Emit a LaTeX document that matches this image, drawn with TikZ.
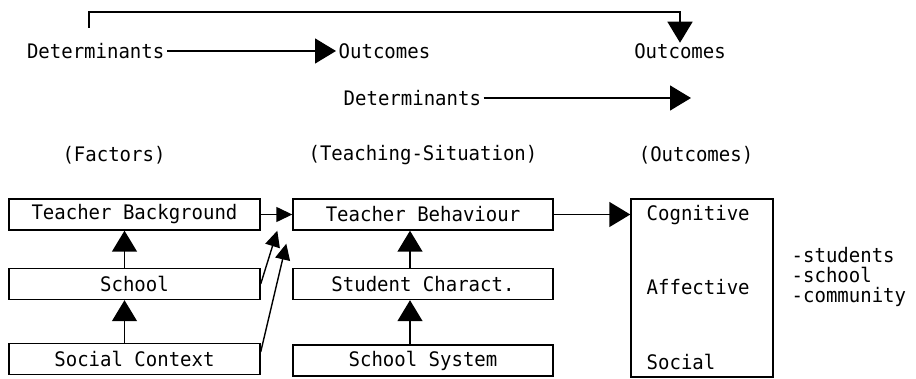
\documentclass[tikz,border=0pt]{standalone}
\usepackage{fontspec}
\setmonofont[FakeStretch=0.95]{DejaVu Sans Mono}
\usetikzlibrary{arrows.meta}
\begin{document}
\begin{tikzpicture}[
        x=1pt, y=-1pt,
        line width=1.4pt,
        font=\ttfamily\fontsize{20}{20}\selectfont
    ]
    \tikzset{
        factorbox/.style = {rectangle, draw=black, align=center, minimum width=251pt, minimum height=31pt, inner sep=0pt},
        bigarrow/.style = {-{Triangle[length=21pt,width=25pt]}},
        smallarrow/.style = {-{Triangle[length=16pt,width=15pt]}},
        plain/.style = {inner sep=2pt},
    }
    \useasboundingbox (0,0) rectangle (916,379);
    % top line
    \node[plain,anchor=east] (det1) at (167,51) {Determinants};
    \node[plain,anchor=west] (out1) at (336,51) {Outcomes};
    \node[plain] (out2) at (680,51) {Outcomes};
    \node[plain,anchor=west] (det2) at (341,98) {Determinants};
    \coordinate (bend) at (89,28);
    \coordinate (dend) at (691,98);
    \draw[bigarrow] (det1.east) -- (out1.west);
    \draw[bigarrow] (bend) -- ++(0,-16) -| ([yshift=-2pt]out2.north);
    \draw[bigarrow] (det2.east) -- (dend);
    % column titles
    \node[plain] (factors) at (114,155) {(Factors)};
    \node[plain] (teaching) at (423,155) {(Teaching-Situation)};
    \node[plain] (outcomes) at (696,155) {(Outcomes)};
    % factors
    \node[factorbox] (tbg) at (134.5,214.5) {Teacher Background};
    \node[factorbox] (sch) at (134.5,284) {School};
    \node[factorbox] (soc) at (134.5,359) {Social Context};
    % teaching situation
    \node[factorbox,minimum width=260pt] (tb) at (423,214.5) {Teacher Behaviour};
    \node[factorbox,minimum width=260pt] (stc) at (423,284) {Student Charact.};
    \node[factorbox,minimum width=260pt] (sys) at (423,360.5) {School System};
    % outcomes
    \node[rectangle,draw=black,minimum width=142pt,minimum height=178pt,inner sep=0pt] (res) at (702,288) {};
    \node[plain,anchor=west] (cog) at (644,215) {Cognitive};
    \node[plain,anchor=west] (aff) at (644,287) {Affective};
    \node[plain,anchor=west] (socl) at (644,362) {Social};
    \node[plain,anchor=west,align=left] (who) at (789,277) {-students\\-school\\-community};
    % arrows
    \draw[bigarrow] ([xshift=-10pt]sch.north) -- ([xshift=-10pt]tbg.south);
    \draw[bigarrow] ([xshift=-10pt]soc.north) -- ([xshift=-10pt]sch.south);
    \draw[bigarrow] ([xshift=-13pt]stc.north) -- ([xshift=-13pt]tb.south);
    \draw[bigarrow] ([xshift=-13pt]sys.north) -- ([xshift=-13pt]stc.south);
    \draw[smallarrow] (tbg.east) -- (tb.west);
    \draw[smallarrow] (sch.east) -- ([xshift=-15pt]tb.south west);
    \draw[smallarrow] ([yshift=7pt]soc.east) -- ([xshift=-6pt,yshift=-13pt]tb.south west);
    \draw[bigarrow] (tb.east) -- (tb.east -| res.west);
\end{tikzpicture}
\end{document}
